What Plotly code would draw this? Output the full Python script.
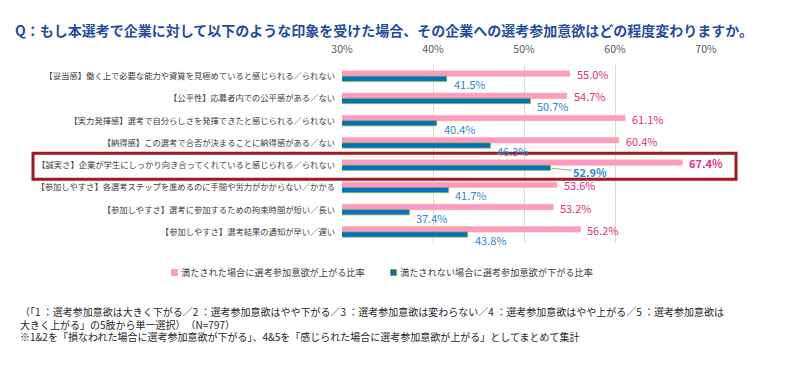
import plotly.graph_objects as go

# ---------------- data ----------------
categories = [
    "【妥当感】働く上で必要な能力や資質を見極めていると感じられる／られない",
    "【公平性】応募者内での公平感がある／ない",
    "【実力発揮感】選考で自分らしさを発揮できたと感じられる／られない",
    "【納得感】この選考で合否が決まることに納得感がある／ない",
    "【誠実さ】企業が学生にしっかり向き合ってくれていると感じられる／られない",
    "【参加しやすさ】各選考ステップを進めるのに手間や労力がかからない／かかる",
    "【参加しやすさ】選考に参加するための拘束時間が短い／長い",
    "【参加しやすさ】選考結果の通知が早い／遅い",
]
rise_pct = [55.0, 54.7, 61.1, 60.4, 67.4, 53.6, 53.2, 56.2]
fall_pct = [41.5, 50.7, 40.4, 46.3, 52.9, 41.7, 37.4, 43.8]
x_ticks = [30, 40, 50, 60, 70]
x_tick_labels = ["30%", "40%", "50%", "60%", "70%"]
series_names = [
    "満たされた場合に選考参加意欲が上がる比率",
    "満たされない場合に選考参加意欲が下がる比率",
]
highlight_index = 4

title_text = "Q：もし本選考で企業に対して以下のような印象を受けた場合、その企業への選考参加意欲はどの程度変わりますか。"
footnote_lines = [
    "（「1 ：選考参加意欲は大きく下がる／2 ：選考参加意欲はやや下がる／3 ：選考参加意欲は変わらない／4 ：選考参加意欲はやや上がる／5 ：選考参加意欲は",
    "大きく上がる」の5肢から単一選択）　（N=797）",
    "※1&amp;2を「損なわれた場合に選考参加意欲が下がる」、4&amp;5を「感じられた場合に選考参加意欲が上がる」としてまとめて集計",
]

# ---------------- layout constants ----------------
OFF = 8                      # page body margin of the browser
W, H = 790 - OFF, 370 - OFF  # figure size
# plot area in page pixels
P_LEFT, P_RIGHT, P_TOP, P_BOTTOM = 342, 706, 65, 242.6
ML = P_LEFT - OFF
MR = W - (P_RIGHT - OFF)
MT = P_TOP - OFF
MB = H - (P_BOTTOM - OFF)

PINK = "#FF99CC"
PINK_EDGE = "#F4B183"
BLUE = "#0070C0"
BLUE_EDGE = "#7FA83F"
PINK_TXT = "#E2307F"
BLUE_TXT = "#2F88CF"
JP = "Noto Sans CJK JP"


def px_x(px):
    return (px - P_LEFT) / (P_RIGHT - P_LEFT)


def px_y(py):
    return (P_BOTTOM - py) / (P_BOTTOM - P_TOP)


fig = go.Figure()
fig.add_bar(
    y=categories, x=rise_pct, orientation="h", name=series_names[0],
    marker=dict(color=PINK, line=dict(color=PINK_EDGE, width=0.8)),
    showlegend=False, hoverinfo="skip",
)
fig.add_bar(
    y=categories, x=fall_pct, orientation="h", name=series_names[1],
    marker=dict(color=BLUE, line=dict(color=BLUE_EDGE, width=0.8)),
    showlegend=False, hoverinfo="skip",
)

# value labels
for i, (cat, v) in enumerate(zip(categories, rise_pct)):
    t = f"{v:.1f}%"
    if i == highlight_index:
        t = f"<b>{t}</b>"
    fig.add_annotation(
        x=v, y=cat, xref="x", yref="y", text=t, showarrow=False,
        xanchor="left", yanchor="middle", xshift=5, yshift=2,
        font=dict(size=11, color=PINK_TXT, family=JP),
    )
for i, (cat, v) in enumerate(zip(categories, fall_pct)):
    t = f"{v:.1f}%"
    if i == highlight_index:
        fig.add_annotation(
            x=v, y=cat, xref="x", yref="y", text=f"<b>{t}</b>", showarrow=True,
            arrowhead=0, arrowwidth=1, arrowcolor="#A6A6A6", ax=40, ay=4,
            yshift=-3, standoff=1,
            font=dict(size=11, color=BLUE_TXT, family=JP),
        )
    else:
        fig.add_annotation(
            x=v, y=cat, xref="x", yref="y", text=t, showarrow=False,
            xanchor="left", yanchor="middle", xshift=5, yshift=-8,
            font=dict(size=11, color=BLUE_TXT, family=JP),
        )

# highlight box
fig.add_shape(
    type="rect", xref="paper", yref="paper",
    x0=px_x(33), x1=px_x(736), y0=px_y(179), y1=px_y(153),
    line=dict(color="#9E1B20", width=3), fillcolor="rgba(0,0,0,0)",
)

# manual legend (small squares + text)
legend_items = [
    (series_names[0], PINK, PINK_EDGE, 171.5),
    (series_names[1], BLUE, BLUE_EDGE, 390.5),
]
for name, fill, edge, sx in legend_items:
    fig.add_shape(
        type="rect", xref="paper", yref="paper",
        x0=px_x(sx), x1=px_x(sx + 6), y0=px_y(275), y1=px_y(269),
        line=dict(color=edge, width=1), fillcolor=fill,
    )
    fig.add_annotation(
        x=px_x(sx + 7.5), y=px_y(272), xref="paper", yref="paper",
        xanchor="left", yanchor="middle", showarrow=False, text=name,
        font=dict(size=9.2, color="#404040", family=JP),
    )

# footnote
for line, ly in zip(footnote_lines, [311, 323.5, 336]):
    fig.add_annotation(
        x=px_x(18), y=px_y(ly), xref="paper", yref="paper",
        xanchor="left", yanchor="middle", align="left", showarrow=False,
        text=line, font=dict(size=10, color="#262626", family=JP),
    )

fig.update_layout(
    width=W, height=H,
    margin=dict(l=ML, r=MR, t=MT, b=MB, pad=0),
    paper_bgcolor="white", plot_bgcolor="white",
    font=dict(family=JP, color="#404040"),
    barmode="group", bargap=0.53, bargroupgap=0,
    showlegend=False,
    title=dict(
        text=f"<b>{title_text}</b>", x=(15 - OFF) / W, xanchor="left",
        y=1 - (31 - OFF) / H, yanchor="middle", xref="container", yref="container",
        font=dict(size=14, color="#1F4E9C", family=JP),
    ),
    xaxis=dict(
        range=[30, 70], tickvals=x_ticks, ticktext=x_tick_labels, side="top",
        showgrid=True, gridcolor="#D9D9D9", gridwidth=1, zeroline=False,
        showline=False, ticks="", ticklabelstandoff=9, automargin=False,
        tickfont=dict(size=10.5, color="#595959", family=JP),
    ),
    yaxis=dict(
        range=[len(categories) - 0.5, -0.5], autorange=False,
        showgrid=False, showline=False, ticks="", automargin=False,
        ticklabelstandoff=6, tickfont=dict(size=8.3, color="#404040", family=JP),
    ),
)

fig.write_html("out.html")
